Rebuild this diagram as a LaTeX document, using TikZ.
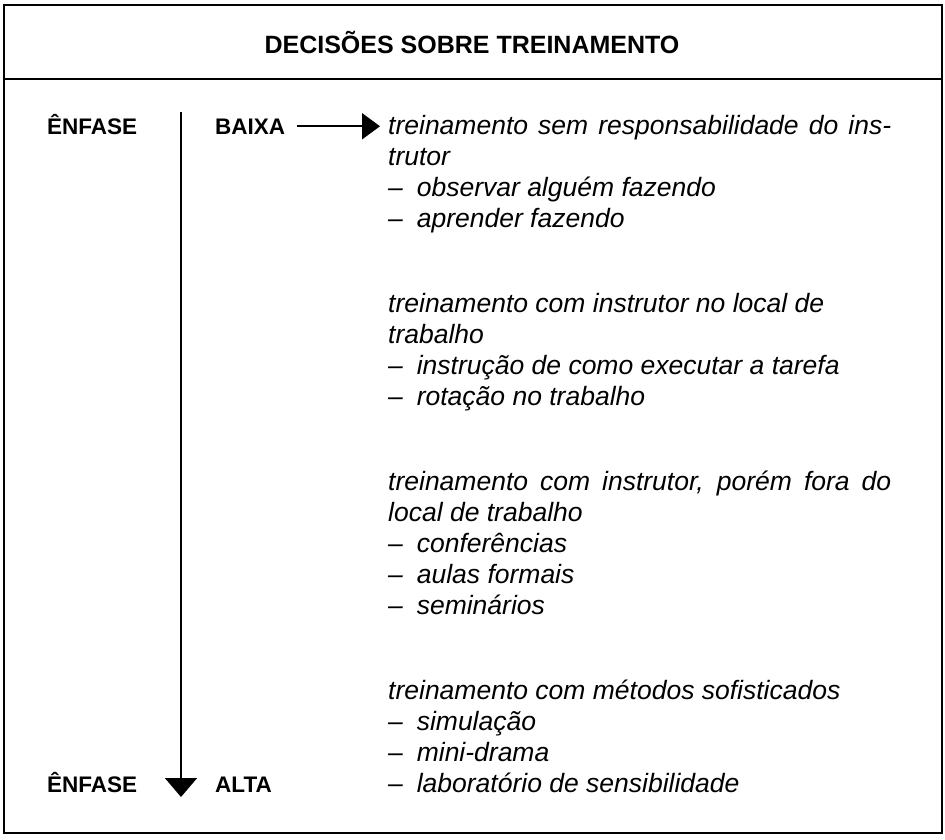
\documentclass[tikz,border=0pt]{standalone}
\usepackage{fontspec}
\setmainfont{Liberation Sans}
\usetikzlibrary{arrows.meta}
\newcommand\itemdash{\makebox[1.08em][l]{–}}
\newcommand\blocklines[1]{\begin{tabular}[t]{@{}l@{}}#1\end{tabular}}
\begin{document}
\begin{tikzpicture}[x=1pt,y=-1pt,
  frame/.style={line width=2.2pt},
  head/.style={font=\fontsize{25}{29}\selectfont\bfseries, inner sep=0pt},
  lab/.style={font=\fontsize{22.5}{26}\selectfont\bfseries, inner sep=0pt, anchor=base west},
  body/.style={font=\fontsize{26.5}{31}\selectfont\itshape, inner sep=0pt, anchor=base west},
  varrow/.style={line width=1.6pt, -{Triangle[width=32pt,length=19pt]}},
  harrow/.style={line width=2pt, -{Triangle[width=26pt,length=18pt]}},
  ]
\useasboundingbox (0,0) rectangle (945,839);
\draw[frame] (4,5) rectangle (942,833);
\draw[frame] (4,79) -- (942,79);
\node[head] (title) at (472,42) {DECISÕES SOBRE TREINAMENTO};

\node[lab] (e1) at (47,134) {ÊNFASE};
\node[lab] (baixa) at (215,134) {BAIXA};
\node[lab] (e2) at (47,792) {ÊNFASE};
\node[lab] (alta) at (215,792) {ALTA};

\coordinate (vtop) at (181,112);
\coordinate (vbot) at (181,797);
\draw[varrow] (vtop) -- (vbot);

\node[body] (b1) at (388,134) {\blocklines{\makebox[503pt][s]{treinamento sem responsabilidade do ins-}\\trutor\\\itemdash observar alguém fazendo\\\itemdash aprender fazendo}};
\node[body] (b2) at (388,312) {\blocklines{treinamento com instrutor no local de\\trabalho\\\itemdash instrução de como executar a tarefa\\\itemdash rotação no trabalho}};
\node[body] (b3) at (388,490) {\blocklines{\makebox[503pt][s]{treinamento com instrutor, porém fora do}\\local de trabalho\\\itemdash conferências\\\itemdash aulas formais\\\itemdash seminários}};
\node[body] (b4) at (388,699) {\blocklines{treinamento com métodos sofisticados\\\itemdash simulação\\\itemdash mini-drama\\\itemdash laboratório de sensibilidade}};

\coordinate (htip) at ([xshift=-8pt]b1.west |- baixa.east);
\draw[harrow] ([xshift=12pt]baixa.east) -- (htip);
\end{tikzpicture}
\end{document}
